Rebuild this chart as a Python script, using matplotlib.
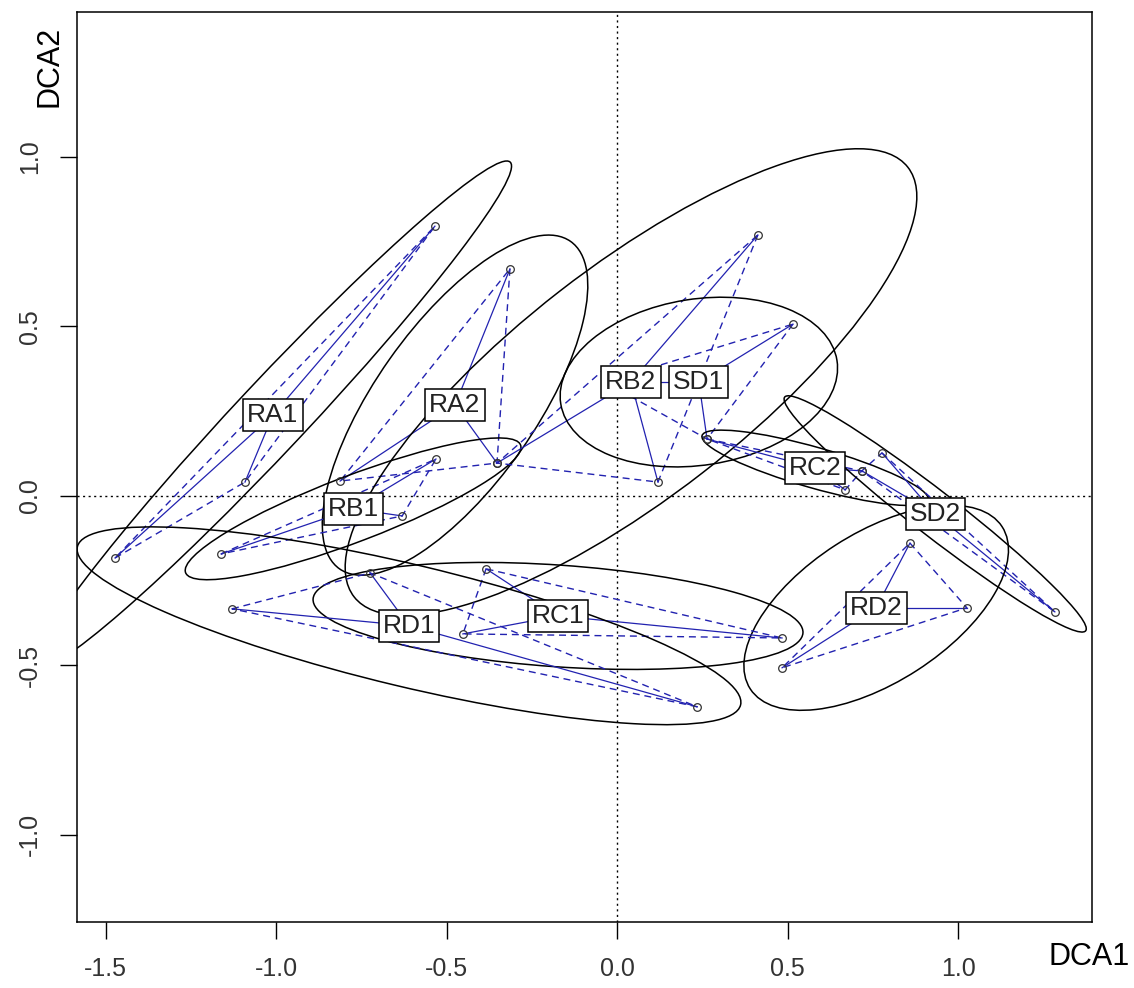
import numpy as np
import matplotlib.pyplot as plt
from matplotlib.patches import Ellipse

plt.rcParams['font.family'] = ['Liberation Sans', 'DejaVu Sans']

# groups (label drawn at the group centre)
groups = ['RA1', 'RA2', 'RB1', 'RB2', 'SD1', 'RC2', 'SD2', 'RD2', 'RC1', 'RD1']

# site scores on DCA1 / DCA2, three sites per group
site_x = [
    [-1.472, -1.091, -0.534],
    [-0.314, -0.352, -0.812],
    [-1.161, -0.531, -0.630],
    [0.413, 0.120, -0.352],
    [0.516, 0.264, -0.035],
    [0.264, 0.718, 0.669],
    [0.777, 1.284, 0.718],
    [0.859, 1.026, 0.484],
    [-0.384, -0.452, 0.484],
    [-1.129, -0.724, 0.235],
]
site_y = [
    [-0.183, 0.041, 0.796],
    [0.670, 0.097, 0.044],
    [-0.171, 0.109, -0.059],
    [0.770, 0.041, 0.097],
    [0.507, 0.168, 0.336],
    [0.168, 0.074, 0.018],
    [0.127, -0.342, 0.074],
    [-0.139, -0.330, -0.507],
    [-0.215, -0.407, -0.419],
    [-0.333, -0.227, -0.622],
]

# group centres
centre_x = [-1.009, -0.475, -0.774, 0.041, 0.240, 0.581, 0.933, 0.760, -0.173, -0.610]
centre_y = [0.239, 0.268, -0.038, 0.336, 0.336, 0.083, -0.053, -0.330, -0.354, -0.383]

# ellipse half axes and tilt (degrees)
ell_a = [1.02, 0.59, 0.526, 1.03, 0.41, 0.345, 0.56, 0.44, 0.72, 1.00]
ell_b = [0.103, 0.235, 0.097, 0.34, 0.245, 0.06, 0.065, 0.22, 0.15, 0.18]
ell_angle = [47, 55, 21, 38, 9, -16, -38, 33, -4, -13.5]

x_ticks = [-1.5, -1.0, -0.5, 0.0, 0.5, 1.0]
y_ticks = [-1.0, -0.5, 0.0, 0.5, 1.0]

spider_col = '#2222b0'

fig = plt.figure(figsize=(11.34, 9.88), dpi=100)
ax = fig.add_axes([0.0679, 0.0668, 0.8951, 0.9211])
ax.set_xlim(-1.5836, 1.393)
ax.set_ylim(-1.257, 1.428)

ax.axhline(0, color='black', lw=1, ls=(0, (1.5, 2.5)), zorder=1)
ax.axvline(0, color='black', lw=1, ls=(0, (1.5, 2.5)), zorder=1)

for i, g in enumerate(groups):
    xs = np.array(site_x[i])
    ys = np.array(site_y[i])
    cx, cy = centre_x[i], centre_y[i]

    # sites
    ax.plot(xs, ys, 'o', ms=5.5, mfc='none', mec='#333333', mew=0.9, zorder=3)

    # ellipse
    ax.add_patch(Ellipse((cx, cy), 2 * ell_a[i], 2 * ell_b[i], angle=ell_angle[i],
                         fill=False, ec='black', lw=1.1, zorder=2))

    # hull (dashed)
    ax.plot(np.append(xs, xs[0]), np.append(ys, ys[0]), color=spider_col,
            lw=1.0, ls=(0, (5, 3.5)), zorder=2)

    # spider
    for x, y in zip(xs, ys):
        ax.plot([cx, x], [cy, y], color=spider_col, lw=0.9, zorder=2)

    ax.text(cx, cy, g, ha='center', va='center', fontsize=19, color='#222222', zorder=5,
            bbox=dict(boxstyle='square,pad=0.15', fc='white', ec='black', lw=1.1))

ax.set_xticks(x_ticks)
ax.set_xticklabels(['%.1f' % v for v in x_ticks])
ax.set_yticks(y_ticks)
ax.set_yticklabels(['%.1f' % v for v in y_ticks], rotation=90, va='center')
ax.tick_params(length=12, width=1, labelsize=18, pad=13, labelcolor='#333333')
for s in ax.spines.values():
    s.set_linewidth(1.1)

fig.text(1089 / 1134, 1 - 957 / 988, 'DCA1', fontsize=22, ha='center', va='center')
fig.text(50 / 1134, 1 - 66 / 988, 'DCA2', fontsize=22, ha='center', va='center', rotation=90)

fig.savefig('out.png', dpi=100)
